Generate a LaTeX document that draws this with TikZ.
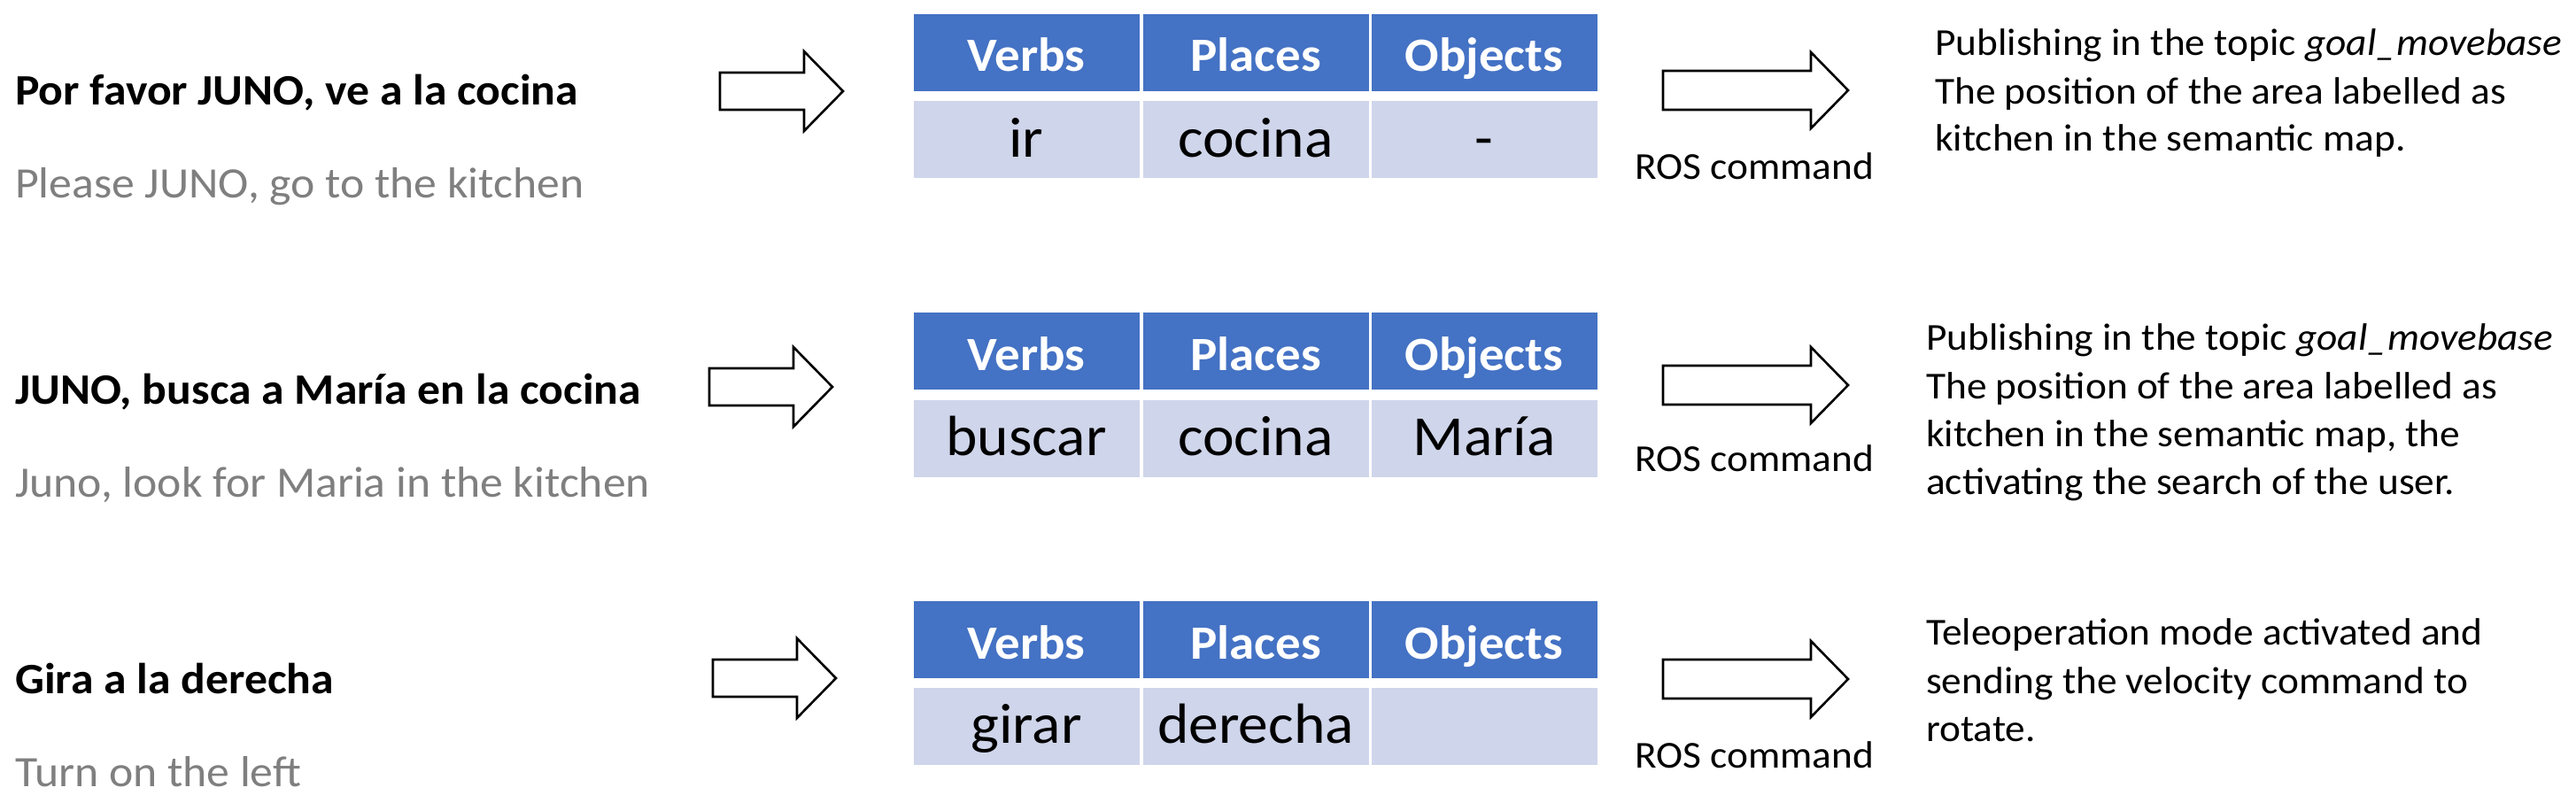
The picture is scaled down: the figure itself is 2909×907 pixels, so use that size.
\documentclass[tikz,border=0pt]{standalone}
\usepackage{fontspec}
\setmainfont{Carlito}[FakeStretch=1.055]
\definecolor{hdrblue}{HTML}{4472C4}
\definecolor{rowblue}{HTML}{CFD5EA}
\definecolor{subgray}{HTML}{7F7F7F}

\begin{document}
\begin{tikzpicture}[x=1pt,y=-1pt,
    hdr/.style={fill=hdrblue,text=white,font=\fontsize{54}{60}\selectfont\bfseries,
      minimum width=255pt,minimum height=87pt,inner sep=0pt,text height=43pt,text depth=0pt},
    cell/.style={fill=rowblue,font=\fontsize{64}{70}\selectfont,
      minimum width=255pt,minimum height=87pt,inner sep=0pt,text height=39pt,text depth=0pt},
    order/.style={anchor=base west,inner sep=0pt,font=\fontsize{49}{55}\selectfont\bfseries},
    trans/.style={anchor=base west,inner sep=0pt,text=subgray,font=\fontsize{49}{55}\selectfont},
    result/.style={anchor=base west,inner sep=0pt,font=\fontsize{43}{50}\selectfont},
    ros/.style={inner sep=0pt,font=\fontsize{43}{50}\selectfont},
    blockarrow/.style={draw=black,line width=2.6pt,fill=white,line join=miter}]

    \path[fill=white] (0,0) rectangle (2909,907);

    % sentences
    \node[order] (s1) at (17,118) {Por favor JUNO, ve a la cocina};
    \node[trans] (t1) at (17,223) {Please JUNO, go to the kitchen};
    \node[order] (s2) at (17,456) {JUNO, busca a María en la cocina};
    \node[trans] (t2) at (17,561) {Juno, look for Maria in the kitchen};
    \node[order] (s3) at (17,783) {Gira a la derecha};
    \node[trans] (t3) at (17,888) {Turn on the left};

    % input arrows
    \draw[blockarrow] (813,82) -- ++(95,0) -- ++(0,-24) -- ++(44,45) -- ++(-44,45) -- ++(0,-24) -- ++(-95,0) -- cycle;
    \draw[blockarrow] (801,416) -- ++(95,0) -- ++(0,-24) -- ++(44,45) -- ++(-44,45) -- ++(0,-24) -- ++(-95,0) -- cycle;
    \draw[blockarrow] (805,745) -- ++(95,0) -- ++(0,-24) -- ++(44,45) -- ++(-44,45) -- ++(0,-24) -- ++(-95,0) -- cycle;

    % tables
    \node[hdr] (h11) at (1159,59.5) {Verbs};
    \node[hdr] (h12) at (1418,59.5) {Places};
    \node[hdr] (h13) at (1676,59.5) {Objects};
    \node[cell] (c11) at (1159,157.5) {ir};
    \node[cell] (c12) at (1418,157.5) {cocina};
    \node[cell] (c13) at (1676,157.5) {-};

    \node[hdr] (h21) at (1159,396.5) {Verbs};
    \node[hdr] (h22) at (1418,396.5) {Places};
    \node[hdr] (h23) at (1676,396.5) {Objects};
    \node[cell] (c21) at (1159,495) {buscar};
    \node[cell] (c22) at (1418,495) {cocina};
    \node[cell] (c23) at (1676,495) {María};

    \node[hdr] (h31) at (1159,722.5) {Verbs};
    \node[hdr] (h32) at (1418,722.5) {Places};
    \node[hdr] (h33) at (1676,722.5) {Objects};
    \node[cell] (c31) at (1159,820) {girar};
    \node[cell] (c32) at (1418,820) {derecha};
    \node[cell] (c33) at (1676,820) {};

    % ROS arrows
    \draw[blockarrow] (1878,80) -- ++(167,0) -- ++(0,-21) -- ++(42,43) -- ++(-42,43) -- ++(0,-21) -- ++(-167,0) -- cycle;
    \draw[blockarrow] (1878,413) -- ++(167,0) -- ++(0,-21) -- ++(42,43) -- ++(-42,43) -- ++(0,-21) -- ++(-167,0) -- cycle;
    \draw[blockarrow] (1878,745) -- ++(167,0) -- ++(0,-21) -- ++(42,43) -- ++(-42,43) -- ++(0,-21) -- ++(-167,0) -- cycle;
    \node[ros] (r1) at (1981,188) {ROS command};
    \node[ros] (r2) at (1981,518) {ROS command};
    \node[ros] (r3) at (1981,853) {ROS command};

    % results
    \node[result] (p1a) at (2185,63) {Publishing in the topic \textit{goal\_movebase}};
    \node[result] (p1b) at (2185,117) {The position of the area labelled as};
    \node[result] (p1c) at (2185,170) {kitchen in the semantic map.};

    \node[result] (p2a) at (2175,395) {Publishing in the topic \textit{goal\_movebase}};
    \node[result] (p2b) at (2175,450) {The position of the area labelled as};
    \node[result] (p2c) at (2175,504) {kitchen in the semantic map, the};
    \node[result] (p2d) at (2175,558) {activating the search of the user.};

    \node[result] (p3a) at (2175,728) {Teleoperation mode activated and};
    \node[result] (p3b) at (2175,783) {sending the velocity command to};
    \node[result] (p3c) at (2175,837) {rotate.};
\end{tikzpicture}
\end{document}
